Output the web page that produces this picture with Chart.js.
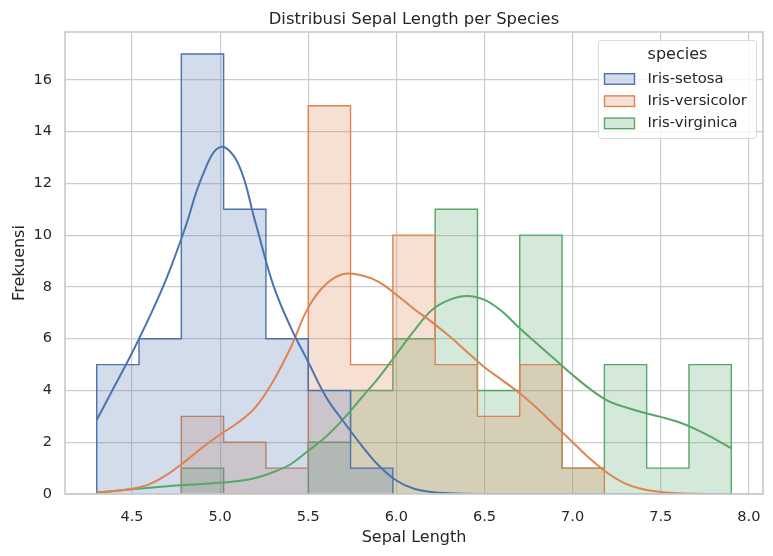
<!DOCTYPE html>
<html>
<head>
<meta charset="utf-8">
<title>Distribusi Sepal Length per Species</title>
<script src="https://cdn.jsdelivr.net/npm/chart.js@4.4.1/dist/chart.umd.min.js"></script>
<style>
    body { margin: 0; background: #ffffff; }
    #wrap { width: 773px; height: 556px; }
</style>
</head>
<body>
<div id="wrap"><canvas id="chart" width="773" height="556"></canvas></div>
<script>
// bin edges of the histogram (15 bins, width 0.24)
const binEdges = [4.30, 4.54, 4.78, 5.02, 5.26, 5.50, 5.74, 5.98, 6.22, 6.46, 6.70, 6.94, 7.18, 7.42, 7.66, 7.90];

const species = ['Iris-setosa', 'Iris-versicolor', 'Iris-virginica'];

// counts per bin
const setosaCounts     = [5, 6, 17, 11, 6, 4, 1, 0, 0, 0, 0, 0, 0, 0, 0];
const versicolorCounts = [0, 0, 3, 2, 1, 15, 5, 10, 5, 3, 5, 1, 0, 0, 0];
const virginicaCounts  = [0, 0, 1, 0, 0, 2, 4, 6, 11, 4, 10, 1, 5, 1, 5];

// kde curves
const kdeX = [4.3, 4.4, 4.5, 4.6, 4.7, 4.8, 4.9, 5.0, 5.1, 5.2, 5.3, 5.4, 5.5, 5.6, 5.7, 5.8, 5.9,
              6.0, 6.1, 6.2, 6.3, 6.4, 6.5, 6.6, 6.7, 6.8, 6.9, 7.0, 7.1, 7.2, 7.3, 7.4, 7.5,
              7.6, 7.7, 7.8, 7.9];
const setosaKde = [2.86, 4.15, 5.45, 6.85, 8.4, 10.25, 12.3, 13.4, 12.8, 10.5, 8.1, 6.45, 5.1, 3.76, 2.8, 1.9, 1.1,
                   0.52, 0.2, 0.08, 0.03, 0.01, 0, 0, 0, 0, 0, 0, 0, 0, 0, 0, 0,
                   0, 0, 0, 0];
const versicolorKde = [0.06, 0.12, 0.2, 0.38, 0.75, 1.25, 1.8, 2.3, 2.75, 3.35, 4.35, 5.65, 7.2, 8.1, 8.5, 8.45, 8.2,
                       7.7, 7.15, 6.65, 6.1, 5.5, 4.9, 4.4, 3.89, 3.3, 2.65, 2.0, 1.35, 0.8, 0.4, 0.18, 0.08,
                       0.03, 0.01, 0, 0];
const virginicaKde = [0.06, 0.12, 0.18, 0.24, 0.3, 0.35, 0.39, 0.43, 0.5, 0.62, 0.84, 1.15, 1.67, 2.21, 2.9, 3.7, 4.5,
                      5.4, 6.3, 7.1, 7.5, 7.65, 7.5, 7.05, 6.4, 5.8, 5.2, 4.6, 4.05, 3.6, 3.35, 3.15, 2.98,
                      2.78, 2.5, 2.15, 1.77];

const xTicks = [4.5, 5.0, 5.5, 6.0, 6.5, 7.0, 7.5, 8.0];
const yTicks = [0, 2, 4, 6, 8, 10, 12, 14, 16];

const colors = ['#4c72b0', '#dd8452', '#55a868'];
const fills = ['rgba(76, 114, 176, 0.25)', 'rgba(221, 132, 82, 0.25)', 'rgba(85, 168, 104, 0.25)'];
const textColor = '#262626';
const fontFamily = '"DejaVu Sans", sans-serif';

// outline of a step histogram from the counts
function stepOutline(counts) {
    let first = counts.findIndex(c => c > 0);
    let last = counts.length - 1;
    while (last > 0 && counts[last] === 0) last--;
    const pts = [{x: binEdges[first], y: 0}];
    for (let i = first; i <= last; i++) {
        pts.push({x: binEdges[i], y: counts[i]});
        pts.push({x: binEdges[i + 1], y: counts[i]});
    }
    pts.push({x: binEdges[last + 1], y: 0});
    return pts;
}

function kdePoints(vals) {
    return kdeX.map((x, i) => ({x: x, y: vals[i]}));
}

const allCounts = [setosaCounts, versicolorCounts, virginicaCounts];
const allKde = [setosaKde, versicolorKde, virginicaKde];

let datasets = [];
for (let i = 0; i < 3; i++) {
    datasets.push({
        label: species[i],
        data: stepOutline(allCounts[i]),
        borderColor: colors[i],
        backgroundColor: fills[i],
        borderWidth: 1.4,
        fill: 'origin',
        pointRadius: 0,
        tension: 0,
        order: 2
    });
}
for (let i = 0; i < 3; i++) {
    datasets.push({
        label: species[i] + ' kde',
        data: kdePoints(allKde[i]),
        borderColor: colors[i],
        borderWidth: 2,
        fill: false,
        pointRadius: 0,
        tension: 0.4,
        order: 1
    });
}

// spines around the axes
const framePlugin = {
    id: 'frame',
    afterDatasetsDraw(chart) {
        const a = chart.chartArea;
        const ctx = chart.ctx;
        ctx.save();
        ctx.strokeStyle = '#cccccc';
        ctx.lineWidth = 1.7;
        ctx.strokeRect(a.left, a.top, a.right - a.left, a.bottom - a.top);
        ctx.restore();
    }
};

// legend inside the top right corner
const legendPlugin = {
    id: 'boxLegend',
    afterDraw(chart) {
        const ctx = chart.ctx;
        const a = chart.chartArea;
        const w = 158, h = 98;
        const x0 = a.right - 6.5 - w, y0 = a.top + 8.5;
        ctx.save();
        ctx.beginPath();
        ctx.roundRect(x0, y0, w, h, 3);
        ctx.fillStyle = 'rgba(255,255,255,0.8)';
        ctx.fill();
        ctx.strokeStyle = '#d9d9d9';
        ctx.lineWidth = 1;
        ctx.stroke();

        ctx.fillStyle = textColor;
        ctx.textBaseline = 'middle';
        ctx.textAlign = 'center';
        ctx.font = '16px ' + fontFamily;
        ctx.fillText('species', x0 + 79, y0 + 14);

        ctx.textAlign = 'left';
        ctx.font = '14.8px ' + fontFamily;
        for (let i = 0; i < species.length; i++) {
            const cy = y0 + 38.5 + i * 22.2;
            ctx.fillStyle = fills[i];
            ctx.fillRect(x0 + 6, cy - 5.3, 30, 10.6);
            ctx.strokeStyle = colors[i];
            ctx.lineWidth = 1.4;
            ctx.strokeRect(x0 + 6, cy - 5.3, 30, 10.6);
            ctx.fillStyle = textColor;
            ctx.fillText(species[i], x0 + 49, cy);
        }
        ctx.restore();
    }
};

const ctx = document.getElementById('chart').getContext('2d');
const chart = new Chart(ctx, {
    type: 'line',
    data: { datasets: datasets },
    options: {
        responsive: false,
        animation: false,
        devicePixelRatio: 1,
        layout: { padding: { left: 0, right: 10, top: 0, bottom: 0 } },
        plugins: {
            legend: { display: false },
            tooltip: { enabled: false },
            title: {
                display: true,
                fullSize: false,
                text: 'Distribusi Sepal Length per Species',
                color: textColor,
                font: { family: fontFamily, size: 16.4, weight: 'normal' },
                padding: { top: 9.5, bottom: 2.8 }
            }
        },
        scales: {
            x: {
                type: 'linear',
                min: 4.12,
                max: 8.08,
                afterBuildTicks: scale => { scale.ticks = xTicks.map(v => ({value: v})); },
                afterFit: scale => {
                    scale.height = 62;
                    scale.paddingLeft = 0;
                    scale.paddingRight = 0;
                },
                grid: { color: '#cccccc', lineWidth: 1.2, drawTicks: false },
                border: { display: false },
                ticks: {
                    color: textColor,
                    font: { family: fontFamily, size: 14.5 },
                    padding: 15,
                    maxRotation: 0,
                    callback: v => v.toFixed(1)
                },
                title: {
                    display: true,
                    text: 'Sepal Length',
                    color: textColor,
                    font: { family: fontFamily, size: 16 },
                    padding: { top: 0, bottom: 8.5 }
                }
            },
            y: {
                min: 0,
                max: 17.85,
                afterBuildTicks: scale => { scale.ticks = yTicks.map(v => ({value: v})); },
                afterFit: scale => {
                    scale.width = 65;
                    scale.paddingTop = 0;
                    scale.paddingBottom = 0;
                },
                grid: { color: '#cccccc', lineWidth: 1.2, drawTicks: false },
                border: { display: false },
                ticks: {
                    color: textColor,
                    font: { family: fontFamily, size: 14.5 },
                    padding: 13,
                    callback: v => String(v)
                },
                title: {
                    display: true,
                    text: 'Frekuensi',
                    color: textColor,
                    font: { family: fontFamily, size: 16 },
                    padding: { top: 10, bottom: 0 }
                }
            }
        }
    },
    plugins: [framePlugin, legendPlugin]
});
</script>
</body>
</html>
